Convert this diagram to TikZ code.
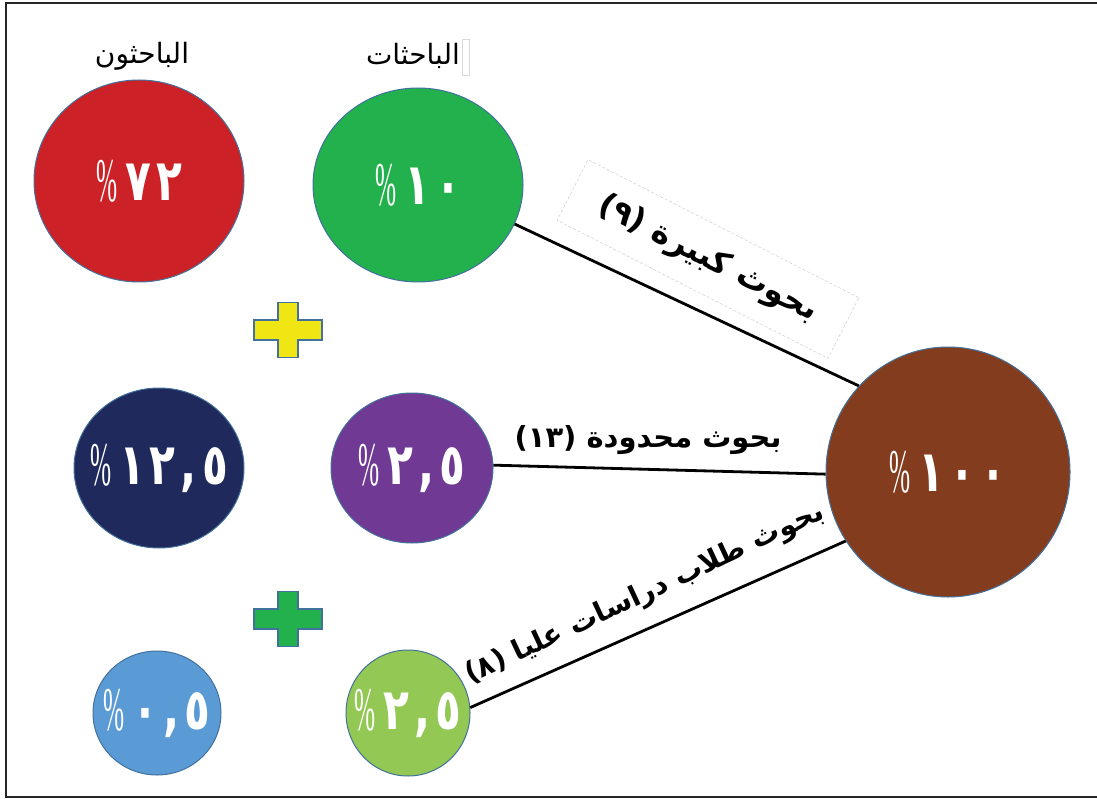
\documentclass[tikz,border=0pt]{standalone}
\usepackage{fontspec}
\usepackage{graphicx}
\usetikzlibrary{shapes.geometric}
\TeXXeTstate=1
\newfontfamily\arabicfont[Script=Arabic]{DejaVu Sans}
\newfontfamily\digitfont[LetterSpace=12]{DejaVu Sans}
\newfontfamily\pctfont{Liberation Serif}
\definecolor{cred}{RGB}{204,33,39}
\definecolor{cgreen}{RGB}{34,177,76}
\definecolor{cnavy}{RGB}{31,41,91}
\definecolor{cpurple}{RGB}{112,57,148}
\definecolor{cblue}{RGB}{91,155,213}
\definecolor{clgreen}{RGB}{146,200,83}
\definecolor{cbrown}{RGB}{132,60,30}
\definecolor{cyellow}{RGB}{240,230,20}
\definecolor{cedge}{RGB}{65,113,156}
\newcommand\pcts{{\pctfont\mdseries\raisebox{-1pt}{\scalebox{0.55}[1.35]{\%}}}\hspace{8pt}}
\newcommand\pv[1]{\pcts\scalebox{0.92}[1.25]{#1}}
\tikzset{
  blob/.style={ellipse, draw=cedge, line width=1pt, inner sep=0pt},
  pcttext/.style={text=white, font=\digitfont\bfseries\fontsize{46}{46}\selectfont},
  lab/.style={font=\arabicfont\bfseries\fontsize{#1}{#1}\selectfont, inner sep=2pt},
  head/.style={font=\arabicfont\fontsize{28}{28}\selectfont},
  conn/.style={line width=2.8pt},
  plussign/.pic={\draw[fill=#1, draw=cedge, line width=1.2pt]
     (-34,-10) -- (-10,-10) -- (-10,-27.5) -- (10,-27.5) -- (10,-10) -- (34,-10)
     -- (34,10) -- (10,10) -- (10,27.5) -- (-10,27.5) -- (-10,10) -- (-34,10) -- cycle;}
}
\begin{document}
\begin{tikzpicture}[x=1pt,y=-1pt]
\useasboundingbox (0,0) rectangle (1097,799);
\draw[line width=2pt, draw=black!85] (1099,3) -- (6,3) -- (6,797) -- (1099,797);

\node[head] (hm) at (142,56) {\beginR الباحثون\endR};
\node[head] (hf) at (413,56) {\beginR الباحثات\endR};
\draw[black!15, line width=0.6pt] (462,39) rectangle (469,75);

\node[blob, fill=cred, minimum width=210pt, minimum height=202pt] (red) at (139,181) {};
\node[blob, fill=cgreen, minimum width=210pt, minimum height=194pt] (green) at (418,185) {};
\node[blob, fill=cnavy, minimum width=170pt, minimum height=160pt] (navy) at (159,468) {};
\node[blob, fill=cpurple, minimum width=162pt, minimum height=150pt] (purple) at (412,468) {};
\node[blob, fill=cblue, minimum width=128pt, minimum height=124pt] (lblue) at (157,713) {};
\node[blob, fill=clgreen, minimum width=124pt, minimum height=126pt] (lgreen) at (408,713) {};
\node[blob, fill=cbrown, minimum width=244pt, minimum height=250pt] (brown) at (948,472) {};

\node[pcttext] (tred) at (red.center) {\pv{٧٢}};
\node[pcttext] (tgreen) at (green.center) {\pv{١٠}};
\node[pcttext] (tnavy) at (navy.center) {\pv{١٢,٥}};
\node[pcttext] (tpurple) at (purple.center) {\pv{٢,٥}};
\node[pcttext] (tlblue) at (lblue.center) {\pv{٠,٥}};
\node[pcttext] (tlgreen) at (lgreen.center) {\pv{٢,٥}};
\node[pcttext] (tbrown) at (brown.center) {\pv{١٠٠}};

\pic at (288,330) {plussign=cyellow};
\pic at (288,619) {plussign=cgreen};

\draw[conn] (green.-22) -- (brown.136);
\draw[conn] (purple.2) -- (brown.181);
\draw[conn] (lgreen.5) -- (brown.214);

\node[lab=32, rotate=-27, draw=black!20, line width=0.5pt, densely dashed, minimum width=304pt, minimum height=68pt] (l1) at (708,259) {\beginR بحوث كبيرة (٩)\endR};
\node[lab=29] (l2) at (648,440) {\beginR بحوث محدودة (١٣)\endR};
\node[lab=28, rotate=25] (l3) at (645,594) {\beginR بحوث طلاب دراسات عليا (٨)\endR};
\end{tikzpicture}
\end{document}
